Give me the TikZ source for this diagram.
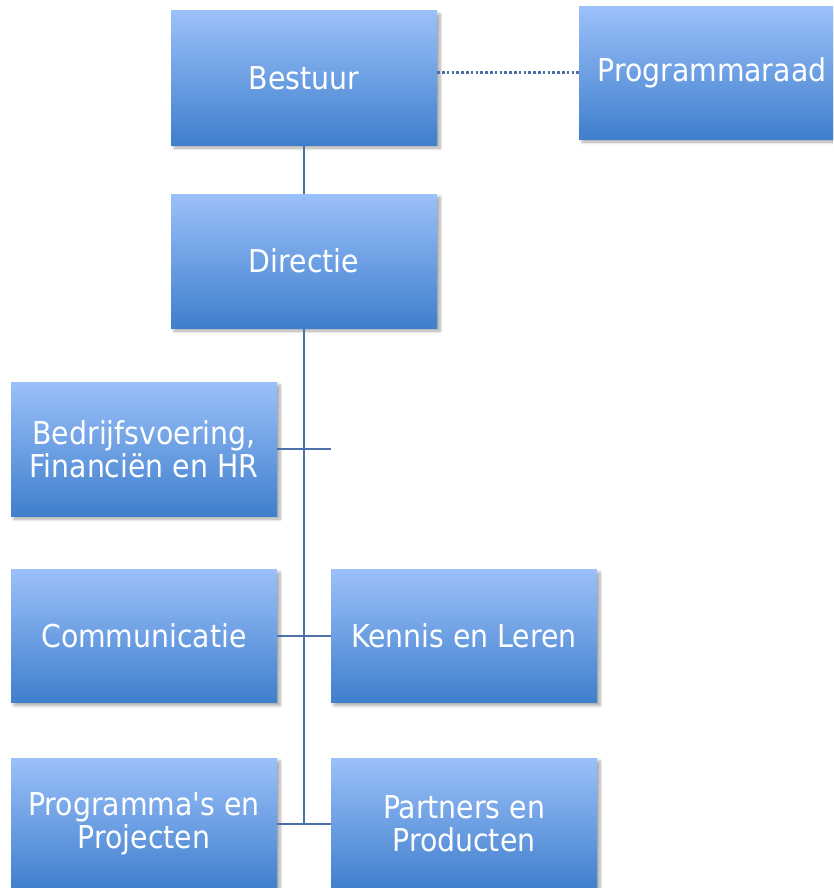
\documentclass[tikz,border=0pt]{standalone}
\usepackage{fontspec}
\setmainfont{DejaVu Sans Condensed}[Ligatures=TeXOff]
\usetikzlibrary{shadows.blur}
\definecolor{boxtop}{RGB}{155,192,250}
\definecolor{boxbot}{RGB}{63,127,204}
\definecolor{linecol}{RGB}{74,113,168}
\tikzset{
  orgbox/.style={rectangle, minimum width=266pt, minimum height=134pt, inner sep=0pt,
    top color=boxtop, bottom color=boxbot, draw=none, text=white,
    font=\fontsize{31.5}{33}\selectfont, align=center,
    blur shadow={shadow xshift=3pt, shadow yshift=-3pt, shadow blur steps=6, shadow opacity=35, shadow blur radius=3pt}},
  conn/.style={draw=linecol, line width=2.6pt},
  dotconn/.style={draw=linecol, line width=3pt, dash pattern=on 2.6pt off 2.2pt}
}
\begin{document}
\begin{tikzpicture}[x=1pt,y=-1pt]
\useasboundingbox (0,0) rectangle (833,888);
\clip (0,0) rectangle (833,888);
\node[orgbox] (bestuur) at (304,78) {Bestuur};
\node[orgbox, minimum height=132pt] (prog) at (712,73) {Programmaraad};
\node[orgbox] (directie) at (304,261) {Directie};
\node[orgbox] (bfh) at (144,449) {Bedrijfsvoering,\\Financiën en HR};
\node[orgbox, minimum height=133pt] (comm) at (144,636) {Communicatie};
\node[orgbox, minimum height=133pt] (kennis) at (464,636) {Kennis en Leren};
\node[orgbox, minimum height=132pt] (pp) at (144,824) {Programma's en\\Projecten};
\node[orgbox, minimum height=132pt] (partners) at (464,824) {Partners en\\Producten};
\coordinate (trunkend) at (304,824);
\coordinate (bfhend) at (331,449);
\draw[conn] (bestuur) -- (directie);
\draw[dotconn] (bestuur.east |- prog.west) -- (prog.west);
\draw[conn] (directie.south) -- (trunkend);
\draw[conn] (bfh.east) -- (bfhend);
\draw[conn] (comm.east) -- (kennis.west);
\draw[conn] (pp.east) -- (partners.west);
\end{tikzpicture}
\end{document}
